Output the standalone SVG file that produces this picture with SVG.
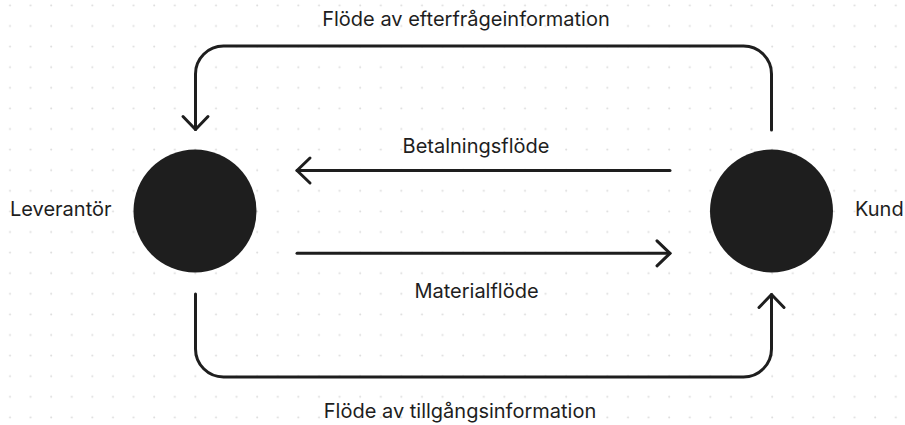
<svg xmlns="http://www.w3.org/2000/svg" width="905" height="425" viewBox="0 0 905 425">
<defs>
<pattern id="grid" x="0" y="0" width="20.6" height="20.6" patternUnits="userSpaceOnUse">
<circle cx="10" cy="5.3" r="1" fill="#dcdcdc"/>
</pattern>
<marker id="arr" markerUnits="userSpaceOnUse" markerWidth="40" markerHeight="40" viewBox="-20 -20 40 40" refX="0" refY="0" orient="auto" overflow="visible">
<path d="M-13,-12.5 L0,0 L-13,12.5" fill="none" stroke="#1e1e1e" stroke-width="3" stroke-linecap="round" stroke-linejoin="round"/>
</marker>
<style>
.ln{fill:none;stroke:#1e1e1e;stroke-width:3;stroke-linecap:round;stroke-linejoin:round;marker-end:url(#arr)}
.node{fill:#1e1e1e}
.t{font-family:Inter,"Noto Sans","Liberation Sans",sans-serif;font-size:20px;fill:#1e1e1e}
</style>
</defs>
<rect width="905" height="425" fill="#ffffff"/>
<rect width="905" height="425" fill="url(#grid)"/>
<g id="leverantor">
<circle class="node" cx="195" cy="211" r="61.5"/>
<text class="t" x="10" y="215.5">Leverantör</text>
</g>
<g id="kund">
<circle class="node" cx="771.5" cy="211" r="61.5"/>
<text class="t" x="855" y="215.5">Kund</text>
</g>
<g id="connectors">
<path class="ln" d="M771.5 130 V74 A28 28 0 0 0 743.5 46 H223.5 A28 28 0 0 0 195.5 74 V129.5"/>
<path class="ln" d="M670 170.5 H297"/>
<path class="ln" d="M297 253.3 H670"/>
<path class="ln" d="M195.5 294 V349 A28 28 0 0 0 223.5 377 H743.5 A28 28 0 0 0 771.5 349 V294.5"/>
</g>
<g id="labels">
<text class="t" x="466" y="26" text-anchor="middle">Flöde av efterfrågeinformation</text>
<text class="t" x="476" y="152.7" text-anchor="middle">Betalningsflöde</text>
<text class="t" x="476.5" y="298" text-anchor="middle">Materialflöde</text>
<text class="t" x="460" y="418" text-anchor="middle">Flöde av tillgångsinformation</text>
</g>
</svg>
